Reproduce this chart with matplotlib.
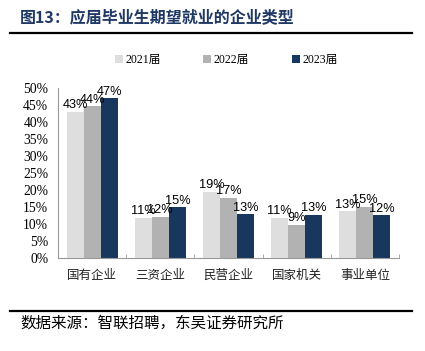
import numpy as np
import matplotlib.pyplot as plt
from matplotlib.lines import Line2D

plt.rcParams['font.family'] = ['Noto Sans CJK SC', 'DejaVu Sans']

# data
categories = ['国有企业', '三资企业', '民营企业', '国家机关', '事业单位']
series_names = ['2021届', '2022届', '2023届']
v2021 = [43.1, 11.7, 19.5, 11.8, 13.7]
v2022 = [44.7, 12.1, 17.7, 9.6, 15.0]
v2023 = [47.0, 14.9, 12.8, 12.7, 12.5]
labels2021 = ['43%', '11%', '19%', '11%', '13%']
labels2022 = ['44%', '12%', '17%', '9%', '15%']
labels2023 = ['47%', '15%', '13%', '13%', '12%']
yticks = [0, 5, 10, 15, 20, 25, 30, 35, 40, 45, 50]

colors = ['#DEDEDE', '#B2B2B2', '#17375E']
series = [v2021, v2022, v2023]
series_labels = [labels2021, labels2022, labels2023]

fig = plt.figure(figsize=(4.25, 3.51), dpi=100)
ax = fig.add_axes([58 / 425, 1 - 257.7 / 351, 341 / 425, 169.4 / 351])

x = np.arange(len(categories))
w = 0.25
for i, (vals, labs, c) in enumerate(zip(series, series_labels, colors)):
    pos = x + (i - 1) * w
    ax.bar(pos, vals, width=w, color=c, label=series_names[i], zorder=2)
    for p, v, t in zip(pos, vals, labs):
        ax.text(p, v + 0.2, t, ha='center', va='bottom', fontsize=9.2,
                family='Liberation Sans', color='black')

ax.set_xlim(-0.5, len(categories) - 0.5)
ax.set_ylim(0, 50)
ax.set_yticks(yticks)
ax.set_yticklabels([f'{t}%' for t in yticks], family='Liberation Serif', fontsize=9.8)
ax.set_xticks(x)
ax.set_xticklabels(categories, fontsize=9, color='#222222')
ax.tick_params(axis='x', length=0, pad=8)
ax.tick_params(axis='y', length=0, pad=7)
ax.set_xticks(np.arange(len(categories) + 1) - 0.5, minor=True)
ax.tick_params(axis='x', which='minor', direction='in', length=3, color='#999999')
for s in ['top', 'right']:
    ax.spines[s].set_visible(False)
for s in ['left', 'bottom']:
    ax.spines[s].set_color('#999999')
    ax.spines[s].set_linewidth(0.8)

# legend as a row of squares above the plot
fig.legend(loc='center', bbox_to_anchor=(226 / 425, 1 - 60 / 351), ncol=3,
           frameon=False, handlelength=0.7, handleheight=0.7,
           handletextpad=0.2, columnspacing=3.6,
           prop={'family': ['Liberation Serif', 'Noto Sans CJK SC'], 'size': 8.5})

# title and rules
fig.text(20 / 425, 1 - 17 / 351, '图13：应届毕业生期望就业的企业类型', fontsize=11.5,
         fontweight='bold', color='#1F3864', va='center', ha='left')
fig.add_artist(Line2D([10 / 425, 412 / 425], [1 - 32.5 / 351] * 2, color='black', lw=1.6))
fig.add_artist(Line2D([10 / 425, 412 / 425], [1 - 311 / 351] * 2, color='black', lw=1.6))
fig.text(20 / 425, 1 - 323 / 351, '数据来源：智联招聘，东吴证券研究所', fontsize=11.2,
         color='black', va='center', ha='left')

fig.savefig('out.png', dpi=100)
